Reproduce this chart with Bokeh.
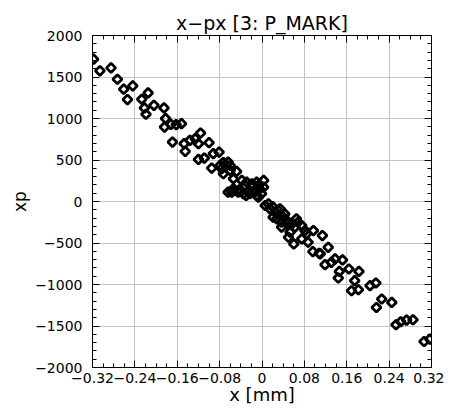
from bokeh.plotting import figure
from bokeh.models import LinearAxis, FixedTicker, Range1d
from bokeh.embed import file_html
from bokeh.resources import INLINE
import math

# ---- data ----
x_mm = [
    -0.318, -0.306, -0.285, -0.273, -0.261, -0.244, -0.254, -0.227, -0.215, -0.222,
    -0.219, -0.204, -0.185, -0.182, -0.184, -0.172, -0.169, -0.162, -0.152, -0.147,
    -0.136, -0.126, -0.116, -0.120, -0.145, -0.100, -0.120, -0.109, -0.092, -0.081,
    -0.095, -0.079, -0.064, -0.073, -0.048, -0.057, -0.043, -0.038, -0.032, -0.030,
    -0.073, -0.076, -0.060, -0.054, -0.029, -0.064, -0.054, -0.045, -0.035, -0.023,
    -0.013, -0.019, -0.007, 0.003, 0.003, -0.001, -0.007, -0.010, -0.010, -0.054,
    -0.019, -0.005, -0.060,
    0.006, 0.012, 0.015, 0.025, 0.021, 0.034, 0.037, 0.047, 0.028, 0.040,
    0.034, 0.047, 0.037, 0.053, 0.065, 0.062, 0.075, 0.081, 0.050, 0.068,
    0.097, 0.114, 0.060, 0.075, 0.087, 0.096, 0.108, 0.125, 0.084, 0.110,
    0.030, 0.043, 0.055, 0.020,
    0.119, 0.131, 0.138, 0.152, 0.146, 0.144, 0.164, 0.183, 0.175, 0.169,
    0.182, 0.204, 0.215, 0.226, 0.216, 0.245, 0.253, 0.262, 0.273, 0.285,
    0.306, 0.317,
]
xp = [
    1715, 1574, 1610, 1473, 1353, 1393, 1228, 1232, 1308, 1127,
    1051, 1159, 1127, 999, 897, 930, 716, 926, 938, 697,
    737, 757, 825, 697, 604, 709, 507, 523, 576, 595,
    402, 435, 475, 334, 362, 112, 141, 254, 193, 72,
    470, 395, 374, 274, 233, 112, 133, 112, 93, 93,
    112, 173, 193, 254, 173, 93, 52, 233, 72, 153,
    213, 153, 435,
    -48, -28, -88, -129, -189, -169, -250, -229, -209, -189,
    -88, -269, -310, -370, -209, -310, -290, -350, -431, -250,
    -350, -411, -511, -451, -491, -604, -624, -552, -390, -630,
    -110, -150, -280, -60,
    -761, -733, -692, -704, -842, -922, -813, -842, -954, -1075,
    -1063, -1014, -982, -1175, -1277, -1216, -1485, -1449, -1429, -1425,
    -1687, -1659,
]

x_ticks = [-0.32, -0.24, -0.16, -0.08, 0.0, 0.08, 0.16, 0.24, 0.32]
x_tick_labels = ["\u22120.32", "\u22120.24", "\u22120.16", "\u22120.08", "0",
                 "0.08", "0.16", "0.24", "0.32"]
y_ticks = [-2000, -1500, -1000, -500, 0, 500, 1000, 1500, 2000]
y_tick_labels = ["\u22122000", "\u22121500", "\u22121000", "\u2212500", "0",
                 "500", "1000", "1500", "2000"]

FONT = "DejaVu Sans"

p = figure(width=444, height=407, output_backend="svg", toolbar_location=None,
           x_range=Range1d(-0.32, 0.32), y_range=Range1d(-2000, 2000),
           x_axis_location=None, y_axis_location=None,
           min_border_left=92, min_border_right=13, min_border_top=35,
           min_border_bottom=40)

p.title.text = "x\u2212px [3: P_MARK]"
p.title.align = "center"
p.title.text_font = FONT
p.title.text_font_style = "normal"
p.title.text_font_size = "19px"
p.title.text_color = "#000000"
p.title.standoff = 3
p.title.offset = 0

x_minor = [round(-0.32 + 0.02 * i, 4) for i in range(33)]
y_minor = [-2000 + 100 * i for i in range(41)]

def style_axis(ax, labels, ticks, minor, show_labels, label=""):
    ax.ticker = FixedTicker(ticks=ticks, minor_ticks=minor)
    ax.major_tick_in = 7
    ax.major_tick_out = 0
    ax.minor_tick_in = 4
    ax.minor_tick_out = 0
    ax.axis_line_color = "black"
    ax.major_tick_line_color = "black"
    ax.minor_tick_line_color = "black"
    ax.major_label_text_font = FONT
    if show_labels:
        ax.major_label_text_color = "black"
        ax.major_label_overrides = {t: l for t, l in zip(ticks, labels)}
        ax.major_label_text_font_size = "14px"
        ax.axis_label = label
        ax.axis_label_text_font = FONT
        ax.axis_label_text_font_style = "normal"
        ax.axis_label_text_font_size = "17px"
        ax.axis_label_text_color = "black"
    else:
        ax.major_label_text_color = None
        ax.major_label_text_font_size = "1px"
        ax.major_label_standoff = 0

xb = LinearAxis()
style_axis(xb, x_tick_labels, x_ticks, x_minor, True, "x [mm]")
xb.major_label_standoff = 5
xb.axis_label_standoff = -2
xb.axis_label_text_font_size = "18px"
p.add_layout(xb, "below")

yl = LinearAxis()
style_axis(yl, y_tick_labels, y_ticks, y_minor, True, "xp")
yl.major_label_standoff = 10
yl.axis_label_standoff = 2
p.add_layout(yl, "left")

xt = LinearAxis()
style_axis(xt, x_tick_labels, x_ticks, x_minor, False)
p.add_layout(xt, "above")

yr = LinearAxis()
style_axis(yr, y_tick_labels, y_ticks, y_minor, False)
p.add_layout(yr, "right")

p.xgrid.ticker = FixedTicker(ticks=x_ticks)
p.ygrid.ticker = FixedTicker(ticks=y_ticks)
p.grid.grid_line_color = "#c4c4c4"
p.grid.grid_line_width = 1
p.outline_line_color = "black"
p.background_fill_color = "white"
p.border_fill_color = "white"

p.scatter(x_mm, xp, marker="square", size=6.5, angle=math.pi / 4,
          fill_color=None, line_color="black", line_width=2.8)

open("out.html", "w").write(file_html(p, INLINE))
